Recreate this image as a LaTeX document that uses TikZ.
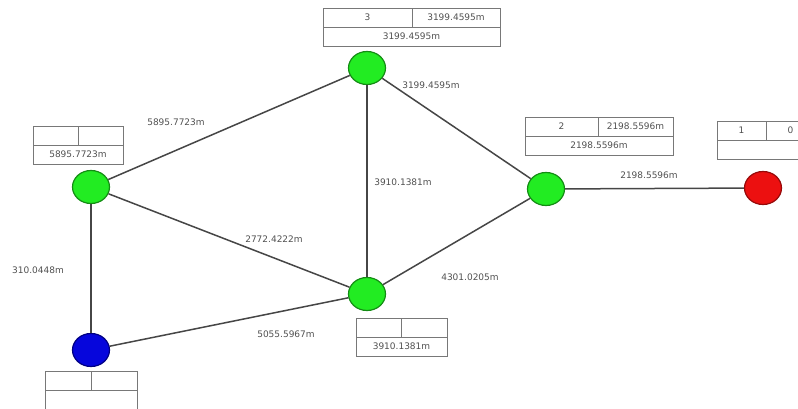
\documentclass[tikz,border=0pt]{standalone}
\usepackage{fontspec}
\setmainfont{DejaVu Sans}
\usepackage{tikz}
\usetikzlibrary{shapes.geometric}

\definecolor{nodegreen}{RGB}{34, 236, 34}
\definecolor{nodegreenedge}{RGB}{20, 140, 20}
\definecolor{nodered}{RGB}{236, 16, 16}
\definecolor{noderededge}{RGB}{150, 10, 10}
\definecolor{nodeblue}{RGB}{6, 6, 220}
\definecolor{nodeblueedge}{RGB}{0, 0, 130}
\definecolor{roadgray}{RGB}{70, 70, 70}
\definecolor{cellgray}{RGB}{120, 120, 120}
\definecolor{labelgray}{RGB}{80, 80, 80}

\tikzset{
  vertex/.style={ellipse, line width=1.2pt, minimum width=37pt, minimum height=33pt, inner sep=0pt},
  road/.style={draw=roadgray, line width=1.5pt},
  dist/.style={text=labelgray, font=\fontsize{9}{10}\selectfont, inner sep=1pt},
  cell/.style={draw=cellgray, line width=0.8pt, minimum height=19pt, inner sep=0pt, outer sep=0pt,
    text=labelgray, font=\fontsize{9}{10}\selectfont}
}

% two cells on top, one wide cell below
\newcommand{\infotable}[8]{%
  \node[cell, minimum width=#4, anchor=north west] (#1a) at (#2,#3) {#6};
  \node[cell, minimum width=#5, anchor=north west] (#1b) at (#1a.north east) {#7};
  \node[cell, minimum width={#4+#5}, anchor=north west] (#1c) at (#1a.south west) {#8};
}

\begin{document}
\begin{tikzpicture}[x=1pt, y=-1pt]
  \useasboundingbox (0,0) rectangle (798,409);
  \clip (0,0) rectangle (798,409);

  % vertices
  \node[vertex, fill=nodegreen, draw=nodegreenedge] (top) at (367,68) {};
  \node[vertex, fill=nodegreen, draw=nodegreenedge] (left) at (91,187) {};
  \node[vertex, fill=nodegreen, draw=nodegreenedge] (mid) at (367,294) {};
  \node[vertex, fill=nodegreen, draw=nodegreenedge] (right) at (546,189) {};
  \node[vertex, fill=nodered, draw=noderededge] (start) at (763,188) {};
  \node[vertex, fill=nodeblue, draw=nodeblueedge] (goal) at (91,350) {};

  % roads
  \draw[road] (left) -- (top);
  \draw[road] (top) -- (mid);
  \draw[road] (top) -- (right);
  \draw[road] (left) -- (mid);
  \draw[road] (mid) -- (right);
  \draw[road] (right) -- (start);
  \draw[road] (left) -- (goal);
  \draw[road] (goal) -- (mid);

  % road lengths
  \node[dist] (dLT) at (176,122) {5895.7723m};
  \node[dist] (dTR) at (431,85) {3199.4595m};
  \node[dist] (dTM) at (403,182) {3910.1381m};
  \node[dist] (dLM) at (274,239) {2772.4222m};
  \node[dist] (dRS) at (649,175) {2198.5596m};
  \node[dist] (dMR) at (470,277) {4301.0205m};
  \node[dist] (dGM) at (286,334) {5055.5967m};
  \node[dist] (dLG) at (38,270) {310.0448m};

  % tables over the vertices
  \infotable{ttop}{323}{8}{89}{88}{3}{3199.4595m}{3199.4595m}
  \infotable{tleft}{33}{126}{45}{45}{}{}{5895.7723m}
  \infotable{tright}{525}{117}{73}{75}{2}{2198.5596m}{2198.5596m}
  \infotable{tstart}{717}{121}{49}{49}{1}{0}{}
  \infotable{tmid}{356}{318}{45}{46}{}{}{3910.1381m}
  \infotable{tgoal}{45}{371}{46}{46}{}{}{}
\end{tikzpicture}
\end{document}
